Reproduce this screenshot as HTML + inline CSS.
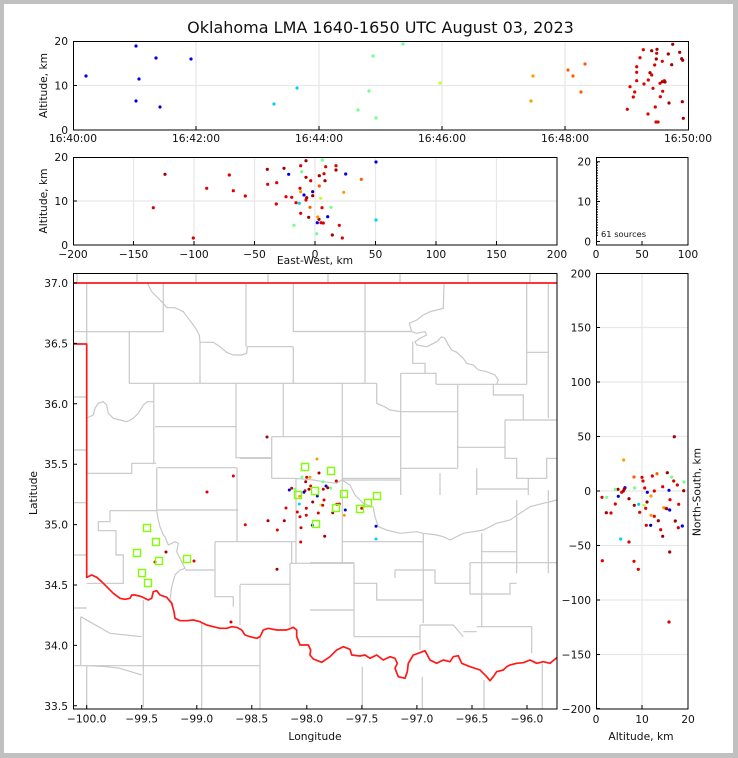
<!DOCTYPE html>
<html><head><meta charset="utf-8"><style>
html,body{margin:0;padding:0;background:#c0c0c0;}
svg{display:block;}
text{font-family:"DejaVu Sans","Liberation Sans",sans-serif;fill:#111;}
.t{font-size:10.7px;}
.g{stroke:#e8e8e8;stroke-width:1.3;fill:none;}
.ax{stroke:#000;stroke-width:1;fill:none;}
.tk{stroke:#000;stroke-width:1;}
.co{stroke:#c8c8c8;stroke-width:1.2;fill:none;}
.B{fill:#0000e6}.DB{fill:#0000a0}.C{fill:#00d0ff}.G{fill:#70ff90}.YG{fill:#c0ff30}
.O{fill:#ff9a00}.OR{fill:#ff5a00}.R{fill:#dd0000}.DR{fill:#a00000}
.sq{fill:none;stroke:#7fff00;stroke-width:1.4;}
</style></head><body>
<svg width="738" height="758" viewBox="0 0 738 758" xmlns="http://www.w3.org/2000/svg">
<rect x="0" y="0" width="738" height="758" fill="#c0c0c0"/>
<rect x="4" y="4" width="729" height="749" fill="#fff"/>

<text x="380.5" y="33" font-size="16" text-anchor="middle">Oklahoma LMA 1640-1650 UTC August 03, 2023</text>

<!-- ===== Top panel: time-height ===== -->
<g class="g">
<path d="M196 41V130M319 41V130M442 41V130M565 41V130M73 85.5H688"/>
</g>
<g>
<circle class="B" cx="86" cy="76" r="1.6"/><circle class="B" cx="136" cy="46" r="1.6"/><circle class="B" cx="156" cy="58" r="1.6"/><circle class="B" cx="191" cy="59" r="1.6"/><circle class="B" cx="139" cy="79" r="1.6"/><circle class="B" cx="136" cy="101" r="1.6"/><circle class="B" cx="160" cy="107" r="1.6"/>
<circle class="C" cx="274" cy="104" r="1.6"/><circle class="C" cx="297" cy="88" r="1.6"/>
<circle class="G" cx="358" cy="110" r="1.6"/><circle class="G" cx="369" cy="91" r="1.6"/><circle class="G" cx="373" cy="56" r="1.6"/><circle class="G" cx="403" cy="44" r="1.6"/><circle class="G" cx="376" cy="118" r="1.6"/>
<circle class="YG" cx="440" cy="83" r="1.6"/>
<circle class="O" cx="533" cy="76" r="1.6"/><circle class="O" cx="531" cy="101" r="1.6"/>
<circle class="OR" cx="568" cy="70" r="1.6"/><circle class="OR" cx="573" cy="76" r="1.6"/><circle class="OR" cx="585" cy="64" r="1.6"/><circle class="OR" cx="581" cy="92" r="1.6"/>
<circle class="R" cx="643.3" cy="49.7" r="1.6"/><circle class="DR" cx="651.7" cy="50.7" r="1.6"/><circle class="DR" cx="657" cy="49.3" r="1.6"/><circle class="R" cx="656.7" cy="53.3" r="1.6"/><circle class="R" cx="640" cy="57.7" r="1.6"/><circle class="DR" cx="656.3" cy="59" r="1.6"/><circle class="R" cx="662.3" cy="61.3" r="1.6"/><circle class="R" cx="654.7" cy="65" r="1.6"/><circle class="R" cx="636.7" cy="66.7" r="1.6"/><circle class="R" cx="636.7" cy="72.3" r="1.6"/><circle class="DR" cx="650" cy="72.7" r="1.6"/><circle class="R" cx="651.7" cy="75" r="1.6"/><circle class="R" cx="636.7" cy="80.7" r="1.6"/><circle class="R" cx="648.3" cy="80" r="1.6"/><circle class="R" cx="644" cy="84" r="1.6"/><circle class="R" cx="630" cy="86.7" r="1.6"/><circle class="R" cx="660" cy="83.3" r="1.6"/><circle class="DR" cx="662.3" cy="81.7" r="1.6"/><circle class="R" cx="664.3" cy="80.7" r="1.6"/><circle class="DR" cx="665" cy="82" r="1.6"/><circle class="R" cx="653" cy="88.3" r="1.6"/><circle class="R" cx="634.7" cy="92" r="1.6"/><circle class="R" cx="662.7" cy="91.3" r="1.6"/><circle class="R" cx="633.3" cy="97" r="1.6"/><circle class="R" cx="660.3" cy="96.7" r="1.6"/><circle class="R" cx="627.3" cy="109.3" r="1.6"/><circle class="R" cx="655.3" cy="107" r="1.6"/><circle class="R" cx="648" cy="114" r="1.6"/><circle class="R" cx="656" cy="122" r="1.6"/><circle class="R" cx="658" cy="122" r="1.6"/><circle class="DR" cx="669" cy="103" r="1.6"/><circle class="DR" cx="682.3" cy="101.7" r="1.6"/><circle class="DR" cx="683.3" cy="118.3" r="1.6"/><circle class="DR" cx="668.3" cy="54" r="1.6"/><circle class="DR" cx="672.7" cy="44.3" r="1.6"/><circle class="DR" cx="679.7" cy="52.3" r="1.6"/><circle class="DR" cx="681.7" cy="58.7" r="1.6"/><circle class="DR" cx="682.7" cy="60.3" r="1.6"/><circle class="DR" cx="671.7" cy="64.7" r="1.6"/>
</g>
<rect class="ax" x="73.5" y="41.5" width="615" height="88.5"/>
<path class="tk" d="M196 130V126M319 130V126M442 130V126M565 130V126M73 85.5H77M73 41.5H77"/>
<g class="t" text-anchor="end">
<text x="68" y="45">20</text><text x="68" y="89.5">10</text><text x="68" y="134">0</text>
</g>
<g class="t" text-anchor="middle">
<text x="73" y="142">16:40:00</text><text x="196" y="142">16:42:00</text><text x="319" y="142">16:44:00</text><text x="442" y="142">16:46:00</text><text x="565" y="142">16:48:00</text><text x="688" y="142">16:50:00</text>
</g>
<text class="t" transform="translate(47,85.5) rotate(-90)" text-anchor="middle">Altitude, km</text>

<!-- ===== Second panel: EW vs alt ===== -->
<g class="g">
<path d="M133.5 157V245M194 157V245M254.5 157V245M315 157V245M375.5 157V245M436 157V245M496.5 157V245M73 201H557"/>
</g>
<g>
<circle class="DR" cx="165" cy="174.3" r="1.6"/><circle class="R" cx="153.3" cy="207.7" r="1.6"/><circle class="R" cx="193.3" cy="238" r="1.6"/><circle class="R" cx="206.7" cy="188.3" r="1.6"/><circle class="R" cx="229.3" cy="175" r="1.6"/><circle class="R" cx="233.3" cy="190.7" r="1.6"/><circle class="R" cx="245.3" cy="196" r="1.6"/><circle class="DR" cx="267.3" cy="169.3" r="1.6"/><circle class="R" cx="267.7" cy="184.3" r="1.6"/><circle class="R" cx="276.7" cy="182.7" r="1.6"/><circle class="R" cx="276.3" cy="204" r="1.6"/><circle class="DR" cx="284" cy="168.3" r="1.6"/><circle class="R" cx="286" cy="196.7" r="1.6"/><circle class="R" cx="291.7" cy="197.3" r="1.6"/><circle class="R" cx="296" cy="202.7" r="1.6"/><circle class="R" cx="300.7" cy="165.7" r="1.6"/><circle class="R" cx="300" cy="188.3" r="1.6"/><circle class="R" cx="300.7" cy="213.3" r="1.6"/><circle class="DR" cx="306" cy="160.7" r="1.6"/><circle class="DR" cx="306" cy="177.3" r="1.6"/><circle class="DR" cx="306.7" cy="197.7" r="1.6"/><circle class="R" cx="306" cy="200" r="1.6"/><circle class="R" cx="310.7" cy="180.7" r="1.6"/><circle class="DR" cx="308.7" cy="217.3" r="1.6"/><circle class="DR" cx="312.7" cy="195.7" r="1.6"/><circle class="DR" cx="319.3" cy="175.7" r="1.6"/><circle class="DR" cx="319" cy="219.3" r="1.6"/><circle class="R" cx="321" cy="222.7" r="1.6"/><circle class="R" cx="322" cy="207.7" r="1.6"/><circle class="R" cx="324" cy="173.7" r="1.6"/><circle class="R" cx="323.3" cy="223" r="1.6"/><circle class="DR" cx="325" cy="180.7" r="1.6"/><circle class="R" cx="325.7" cy="166.7" r="1.6"/><circle class="DR" cx="332.3" cy="235" r="1.6"/><circle class="R" cx="336" cy="165.7" r="1.6"/><circle class="DR" cx="336" cy="170" r="1.6"/><circle class="R" cx="339.3" cy="225.3" r="1.6"/><circle class="R" cx="342.3" cy="238" r="1.6"/>
<circle class="B" cx="288.7" cy="174.3" r="1.6"/><circle class="B" cx="304" cy="195" r="1.6"/><circle class="DB" cx="312.7" cy="191.7" r="1.6"/><circle class="B" cx="317.3" cy="222.7" r="1.6"/><circle class="B" cx="327.7" cy="216.7" r="1.6"/><circle class="B" cx="345.7" cy="174" r="1.6"/><circle class="B" cx="376" cy="162" r="1.6"/>
<circle class="C" cx="299.3" cy="203.3" r="1.6"/><circle class="C" cx="376" cy="220" r="1.6"/>
<circle class="G" cx="322.3" cy="160" r="1.6"/><circle class="G" cx="301.7" cy="171.7" r="1.6"/><circle class="G" cx="331" cy="207.3" r="1.6"/><circle class="G" cx="294" cy="225.3" r="1.6"/><circle class="G" cx="316.7" cy="233.7" r="1.6"/>
<circle class="YG" cx="320.7" cy="198.3" r="1.6"/>
<circle class="O" cx="300.7" cy="191.7" r="1.6"/><circle class="OR" cx="310" cy="207.3" r="1.6"/><circle class="OR" cx="319.3" cy="186" r="1.6"/><circle class="O" cx="317.7" cy="217" r="1.6"/><circle class="O" cx="343.7" cy="192.3" r="1.6"/><circle class="OR" cx="361.3" cy="179.3" r="1.6"/>
</g>
<rect class="ax" x="73.5" y="157.5" width="483.5" height="87.5"/>
<path class="tk" d="M133.5 245V241M194 245V241M254.5 245V241M315 245V241M375.5 245V241M436 245V241M496.5 245V241M73 201H77M73 157.5H77"/>
<g class="t" text-anchor="end">
<text x="68" y="161">20</text><text x="68" y="205">10</text><text x="68" y="249">0</text>
</g>
<g class="t" text-anchor="middle">
<text x="73" y="258">−200</text><text x="133.5" y="258">−150</text><text x="194" y="258">−100</text><text x="254.5" y="258">−50</text><text x="315" y="258">0</text><text x="375.5" y="258">50</text><text x="436" y="258">100</text><text x="496.5" y="258">150</text><text x="557" y="258">200</text>
</g>
<text class="t" x="315" y="264" text-anchor="middle">East-West, km</text>
<text class="t" transform="translate(47,201) rotate(-90)" text-anchor="middle">Altitude, km</text>

<!-- ===== Histogram panel ===== -->
<path d="M597 162V236" stroke="#000" stroke-width="1.6" stroke-dasharray="1.3,1.3"/>
<rect class="ax" x="596.5" y="157.5" width="91.5" height="87.5"/>
<path class="tk" d="M642 245V241M596 161.7H600M596 201.5H600M596 241.5H600"/>
<g class="t" text-anchor="end">
<text x="591" y="165.7">20</text><text x="591" y="205.5">10</text><text x="591" y="245.5">0</text>
</g>
<g class="t" text-anchor="middle">
<text x="596" y="258">0</text><text x="642" y="258">50</text><text x="688" y="258">100</text>
</g>
<text x="601" y="237" font-size="8.3">61 sources</text>

<!-- ===== Map panel ===== -->
<defs><clipPath id="mc"><rect x="73" y="273" width="484" height="436"/></clipPath></defs>
<g clip-path="url(#mc)">
<path class="co" d="M77 273V283M137 273V283M196 273V283M268 273V283M328 273V283M400 273V283M468 273V283M530 273V283
M73 331.7H86.7M73 397H86.7M73 450H86.7M73 502.7H86.7M73 555H86.7M73 608H86.7M86.7 283V344
M86.7 418L93.3 415L95 408.3L98.3 403.3L103.3 401.7L106.7 405L108.3 413.3L113.3 418.3L120 420L126.7 421.7L133.3 418.3L138.3 413.3L143.3 405L147.3 401.7L153.3 401.7
M147.3 283L151.7 291.7L158.3 298.3L163.3 303.3L166.7 307.7L175 307.7L183.3 311.7L188.3 318.3L193.3 325L196.7 330L199.3 335L200 342.3L213.3 342.3L220 346.7L226.7 352.3L233.3 355L241.7 355L246.7 353.3L247.3 346.7
M86.7 331.7H163.3M163.3 283V331.7M247.3 346.7H293.3M246 283V346.7M293.3 283V331.5H411.7
M129.3 331.7V383.3H376.7M200 342.3V383.3M293.3 346.7V383.3
M153.8 383.3V463.3M131.7 463.3H156M131.7 463.3V473.3H86.7M155 426.7H236.7M236 383.3V457.7H272
M156.7 467.7H236.7M156.7 467.7V510.7M283.3 383.3V436.7M271.7 436.7H341.7M271.7 436.7V478.3M240 458.3H271.7M271.7 478.3H295
M295 478.3L313.3 480L323.3 481.7L336.7 483.3L341.7 480L350 485L355 495L363.3 503.3L373.3 507.3L375 516.7L378.3 526.7L386.7 530L400 533.3L416.7 531.7L423.3 533.3L436.7 535L443.3 536.7L450 540L463.3 533.3L483.3 530L496.7 523.3L510 520L520 513.3L530 506.7L543.3 503.3L557 500
M341.7 480H400M296 478.3V563.3M342.3 383.3V563.3M240 541.7H296M342.3 541.7H423.3M290 563.3H353.3M365 283V383.3
M411.7 331.7L416.7 333.3L425 331.7L426.7 335L420 338.3L415 341.7L416.7 345L426.7 346.7L436.7 341.7L441.7 336.7L445 338.3L448.3 345L451.7 350L456.7 352.3L463.3 358.3L466.7 363.3L473.3 365L478.3 370L486.7 371.7L495 375L498.3 380L496.7 384.3
M411.7 331.7L409.3 323.3L416.7 320L423.3 315L430 311.7L436.7 310L443.3 308.3L444 283
M412.7 341.7V363.3H425V373.3M400.7 373.3H436V384.3M400.7 373.3V495M436 384.3H526.7M526.7 283V384.3
M376.7 383.3V403.3L385 407L390 410L400.7 411.7M400.7 411.7H457.7M457.7 384.3V468.3M310 436.7H400.7M342.3 478.3H400.7M400.7 468.3H457.7M457.7 447.3H505
M493.3 384.3V395H523.3V420M505 420H557M505 420V458.3H516.7V478.3H546.7V458.3H557M548.3 283V418M526.7 352.3H548.3
M440 473.3V495M476.7 468.3V495M476.7 489H528.3M528.3 478.3V495
M110 510.7H156.7M110 510.7V521.7H98.3V530.7H116V555H123.3V583.3H86.7
M156.7 510.7L158.3 520L160 526.7L163.3 535L165 536.7L168.3 545L175 541.7L178.3 543.3L176.7 551.7L180 558.3L183.3 565L185 568.3L180 570L175 575L171.7 586.7L170 600L173.3 605
M156.7 510H238.3M237 467.7V541.7M215 541.7H291.7M215 541.7V596.7H233.3V606.7M240 585V625M240 584.3H290M290 563.3V626.7M290 563.3H320M291.7 541.7V563.3M185 570H215
M80.7 616.7V665.7M80.7 616.7L110 633.3L141.7 636.7M143.3 600V707M73 665.7H260M86.7 665.7V709M201.7 623V709M260 637V709
M86.7 665.7L106.7 666.7L120 668.3L141.7 675
M354 562.7V636.7M310 562.7H354M310 610H354M354 636.7H420M354 583.3H376.7V600H423.3M423.3 533.3V623.3
M395 570H435V583.3H470M395 570V578M420 625V650M420 625H453.3L463.3 636.7M463.3 631.7H476.7M476.7 626.7H531.7V653.3
M481.7 533.3V626.7M481.7 551.7H516.7M470 562.7V594H510V583.3H516.7M470 562.7H516.7M516.7 500V573.3M516.7 562.7H557M548.3 490V573.3
M362.3 666.7V709M422.3 676.7V709M484 680V709M542.3 663.3V709"/>
<!-- Red state border -->
<path fill="none" stroke="#ff1a1a" stroke-width="1.7" stroke-linejoin="round" d="M73 283H557"/>
<path fill="none" stroke="#ff1a1a" stroke-width="1.7" stroke-linejoin="round" d="M73 344H86.7V577.3L91.7 575L96.7 577.3L101.7 581.7L106.7 586.7L113.3 593.3L120 598.3L125 599.3L130 598.3L131.7 595L135 595L141.7 596.7L148.3 600L151.7 598.3L153.3 591.7L156.7 590.7L160 595L166.7 597.3L171.7 603.3L174 611.7L175 618.3L180 620.7L186.7 620.7L193.3 620L200 621.7L206.7 625L213.3 626.7L220 628.3L226.7 628.3L231.7 626.7L236.7 627.3L241.7 630L245 635L250 636.7L256.7 638.3L260 636.7L263.3 630L268.3 628.3L276.7 630L286.7 630L293.3 627.3L296.7 630L296.7 636.7L300 645L308.3 645L310.7 650L310 655L313.3 659L321.7 662.3L330 656.7L336.7 650L343.3 646.7L350 649.3L351.7 655L360 656L365 655L370 658.3L376.7 655L383.3 660L390 656.7L395 658.3L397.3 663.3L395 668.3L398.3 676.7L405 678.3L407.3 671.7L408.3 663.3L413.3 655L418.3 653.3L425 650.7L430 660L436.7 663.3L443.3 660L450 661.7L453.3 656.7L458.3 655.7L461.7 663.3L470 666.7L480 670L486.7 676.7L490 680.7L493.3 676.7L496.7 671.7L503.3 670L506.7 666.7L510 665L516.7 663.3L523.3 662.7L530 660L536.7 663.3L543.3 661.7L550 663.3L557.3 657.3"/>
</g>
<!-- map points -->
<g>
<circle class="DR" cx="267" cy="437" r="1.5"/><circle class="O" cx="317" cy="459" r="1.5"/><circle class="DR" cx="319" cy="473" r="1.5"/><circle class="G" cx="302" cy="477" r="1.5"/><circle class="R" cx="306.7" cy="477.3" r="1.5"/><circle class="O" cx="310" cy="477.3" r="1.5"/><circle class="R" cx="336.3" cy="481" r="1.5"/><circle class="DR" cx="305.7" cy="481.7" r="1.5"/><circle class="G" cx="323" cy="481.7" r="1.5"/><circle class="R" cx="310.7" cy="486" r="1.5"/><circle class="B" cx="326" cy="486" r="1.5"/><circle class="DR" cx="327.7" cy="487.7" r="1.5"/><circle class="G" cx="330.7" cy="488" r="1.5"/><circle class="R" cx="291.7" cy="488.3" r="1.5"/><circle class="B" cx="289.3" cy="490" r="1.5"/><circle class="G" cx="295" cy="489.3" r="1.5"/><circle class="DR" cx="309" cy="489.3" r="1.5"/><circle class="R" cx="305" cy="490.7" r="1.5"/><circle class="B" cx="304" cy="492.3" r="1.5"/><circle class="R" cx="323.3" cy="489.3" r="1.5"/><circle class="O" cx="299.7" cy="496.3" r="1.5"/><circle class="B" cx="317.3" cy="496" r="1.5"/><circle class="R" cx="324" cy="500" r="1.5"/><circle class="DR" cx="312.7" cy="502" r="1.5"/><circle class="C" cx="299.3" cy="504" r="1.5"/><circle class="YG" cx="320.7" cy="505" r="1.5"/><circle class="R" cx="322.7" cy="505.3" r="1.5"/><circle class="R" cx="336.7" cy="504.3" r="1.5"/><circle class="R" cx="339.3" cy="504" r="1.5"/><circle class="DR" cx="332.7" cy="512.7" r="1.5"/><circle class="B" cx="345.3" cy="510" r="1.5"/><circle class="O" cx="344.3" cy="515.3" r="1.5"/><circle class="R" cx="286" cy="508" r="1.5"/><circle class="R" cx="306.3" cy="508.3" r="1.5"/><circle class="R" cx="297.3" cy="512" r="1.5"/><circle class="R" cx="318.3" cy="513" r="1.5"/><circle class="R" cx="306.3" cy="515.3" r="1.5"/><circle class="R" cx="300" cy="516.7" r="1.5"/><circle class="R" cx="361.7" cy="508.3" r="1.5"/><circle class="DR" cx="268" cy="520.7" r="1.5"/><circle class="DR" cx="284.3" cy="520.7" r="1.5"/><circle class="R" cx="245.3" cy="524.7" r="1.5"/><circle class="B" cx="312.3" cy="525.3" r="1.5"/><circle class="R" cx="277.3" cy="530" r="1.5"/><circle class="R" cx="301" cy="527.7" r="1.5"/><circle class="DR" cx="324.7" cy="536.3" r="1.5"/><circle class="R" cx="300.7" cy="542" r="1.5"/><circle class="B" cx="376" cy="526.3" r="1.5"/><circle class="C" cx="376" cy="539" r="1.5"/><circle class="DR" cx="277" cy="569.3" r="1.5"/><circle class="R" cx="233.3" cy="476" r="1.5"/><circle class="R" cx="207" cy="492" r="1.5"/><circle class="R" cx="231" cy="622" r="1.5"/><circle class="DR" cx="166" cy="552" r="1.5"/><circle class="R" cx="155" cy="562" r="1.5"/><circle class="R" cx="194" cy="561" r="1.5"/>
</g>
<g class="sq">
<rect x="301.5" y="463.5" width="7" height="7"/><rect x="327.5" y="467.5" width="7" height="7"/><rect x="311.5" y="487.5" width="7" height="7"/><rect x="294.5" y="491.5" width="7" height="7"/><rect x="340.5" y="490.5" width="7" height="7"/><rect x="332.5" y="504.5" width="7" height="7"/><rect x="356.5" y="505.5" width="7" height="7"/><rect x="364.5" y="499.5" width="7" height="7"/><rect x="373.5" y="492.5" width="7" height="7"/><rect x="312.5" y="520.5" width="7" height="7"/><rect x="143.5" y="524.5" width="7" height="7"/><rect x="152.5" y="538.5" width="7" height="7"/><rect x="133.5" y="549.5" width="7" height="7"/><rect x="155.5" y="557.5" width="7" height="7"/><rect x="183.5" y="555.5" width="7" height="7"/><rect x="138.5" y="569.5" width="7" height="7"/><rect x="144.5" y="579.5" width="7" height="7"/>
</g>
<rect class="ax" x="73.5" y="273.5" width="483.5" height="435.5"/>
<path class="tk" d="M73 283H77M73 343.4H77M73 403.8H77M73 464.2H77M73 524.6H77M73 585H77M73 645.4H77M73 705.8H77
M86.7 709V705M141.7 709V705M196.8 709V705M251.8 709V705M306.8 709V705M361.9 709V705M416.9 709V705M472 709V705M527 709V705"/>
<g class="t" text-anchor="end">
<text x="68" y="287">37.0</text><text x="68" y="347.4">36.5</text><text x="68" y="407.8">36.0</text><text x="68" y="468.2">35.5</text><text x="68" y="528.6">35.0</text><text x="68" y="589">34.5</text><text x="68" y="649.4">34.0</text><text x="68" y="709.8">33.5</text>
</g>
<g class="t" text-anchor="middle">
<text x="86.7" y="722.7">−100.0</text><text x="141.7" y="722.7">−99.5</text><text x="196.8" y="722.7">−99.0</text><text x="251.8" y="722.7">−98.5</text><text x="306.8" y="722.7">−98.0</text><text x="361.9" y="722.7">−97.5</text><text x="416.9" y="722.7">−97.0</text><text x="472" y="722.7">−96.5</text><text x="527" y="722.7">−96.0</text>
</g>
<text class="t" x="315" y="740" text-anchor="middle">Longitude</text>
<text class="t" transform="translate(37,493) rotate(-90)" text-anchor="middle">Latitude</text>

<!-- ===== Right panel: alt vs NS ===== -->
<g class="g">
<path d="M642 273V709M596 327.5H688M596 382H688M596 436.5H688M596 491H688M596 545.5H688M596 600H688M596 654.5H688"/>
</g>
<g>
<circle class="DR" cx="674.3" cy="436.7" r="1.6"/><circle class="O" cx="623.7" cy="460" r="1.6"/><circle class="OR" cx="634" cy="477" r="1.6"/><circle class="R" cx="642" cy="477.3" r="1.6"/><circle class="R" cx="643" cy="481" r="1.6"/><circle class="R" cx="652.3" cy="476" r="1.6"/><circle class="OR" cx="657" cy="473.7" r="1.6"/><circle class="DR" cx="667.3" cy="472.7" r="1.6"/><circle class="G" cx="671.7" cy="477" r="1.6"/><circle class="R" cx="673.7" cy="481" r="1.6"/><circle class="R" cx="677.3" cy="485" r="1.6"/><circle class="G" cx="684" cy="482" r="1.6"/><circle class="DR" cx="683.7" cy="490.7" r="1.6"/><circle class="R" cx="662.7" cy="486.7" r="1.6"/><circle class="B" cx="669" cy="490.3" r="1.6"/><circle class="R" cx="654.3" cy="491" r="1.6"/><circle class="B" cx="647.3" cy="492.3" r="1.6"/><circle class="R" cx="644.7" cy="488" r="1.6"/><circle class="G" cx="634.7" cy="488" r="1.6"/><circle class="B" cx="625" cy="487.7" r="1.6"/><circle class="DR" cx="624.3" cy="489" r="1.6"/><circle class="DR" cx="623.3" cy="491" r="1.6"/><circle class="R" cx="621.7" cy="492.3" r="1.6"/><circle class="DR" cx="618" cy="489.3" r="1.6"/><circle class="G" cx="615.3" cy="489.3" r="1.6"/><circle class="R" cx="602" cy="497.3" r="1.6"/><circle class="G" cx="606.7" cy="497.3" r="1.6"/><circle class="B" cx="618.3" cy="496.3" r="1.6"/><circle class="R" cx="615.3" cy="504" r="1.6"/><circle class="DR" cx="629" cy="498.7" r="1.6"/><circle class="DR" cx="634.3" cy="505.3" r="1.6"/><circle class="C" cx="638.7" cy="504.3" r="1.6"/><circle class="YG" cx="644" cy="505.3" r="1.6"/><circle class="R" cx="645.7" cy="508.3" r="1.6"/><circle class="DR" cx="647" cy="502" r="1.6"/><circle class="O" cx="651" cy="496" r="1.6"/><circle class="O" cx="651" cy="515.3" r="1.6"/><circle class="R" cx="654.3" cy="516.3" r="1.6"/><circle class="DR" cx="658.3" cy="520.7" r="1.6"/><circle class="O" cx="663.7" cy="507.7" r="1.6"/><circle class="OR" cx="665.7" cy="508.3" r="1.6"/><circle class="DR" cx="666.7" cy="508.7" r="1.6"/><circle class="R" cx="670" cy="499.7" r="1.6"/><circle class="B" cx="669.7" cy="510" r="1.6"/><circle class="R" cx="678.7" cy="504.3" r="1.6"/><circle class="DR" cx="675.3" cy="521" r="1.6"/><circle class="R" cx="678.3" cy="527.7" r="1.6"/><circle class="B" cx="682.3" cy="526" r="1.6"/><circle class="R" cx="660.7" cy="529.7" r="1.6"/><circle class="DB" cx="650.7" cy="525.3" r="1.6"/><circle class="R" cx="646.3" cy="525.3" r="1.6"/><circle class="DR" cx="662.7" cy="536.3" r="1.6"/><circle class="DR" cx="669.7" cy="552" r="1.6"/><circle class="DR" cx="606.3" cy="512.7" r="1.6"/><circle class="R" cx="611" cy="513" r="1.6"/><circle class="R" cx="639.7" cy="512.3" r="1.6"/><circle class="C" cx="620.7" cy="539" r="1.6"/><circle class="R" cx="629" cy="542" r="1.6"/><circle class="R" cx="602.3" cy="560.7" r="1.6"/><circle class="R" cx="634" cy="561.3" r="1.6"/><circle class="R" cx="638.3" cy="569.3" r="1.6"/><circle class="R" cx="669" cy="622" r="1.6"/>
</g>
<rect class="ax" x="596.5" y="273.5" width="91.5" height="435.5"/>
<path class="tk" d="M642 709V705M596 273.5H600M596 327.5H600M596 382H600M596 436.5H600M596 491H600M596 545.5H600M596 600H600M596 654.5H600M596 708.5H600"/>
<g class="t" text-anchor="end">
<text x="591" y="277.5">200</text><text x="591" y="331.5">150</text><text x="591" y="386">100</text><text x="591" y="440.5">50</text><text x="591" y="495">0</text><text x="591" y="549.5">−50</text><text x="591" y="604">−100</text><text x="591" y="658.5">−150</text><text x="591" y="713">−200</text>
</g>
<g class="t" text-anchor="middle">
<text x="596" y="723">0</text><text x="642" y="723">10</text><text x="688" y="723">20</text>
</g>
<text class="t" x="641" y="740" text-anchor="middle">Altitude, km</text>
<text class="t" transform="translate(700.5,492) rotate(-90)" text-anchor="middle">North-South, km</text>
</svg>
</body></html>
